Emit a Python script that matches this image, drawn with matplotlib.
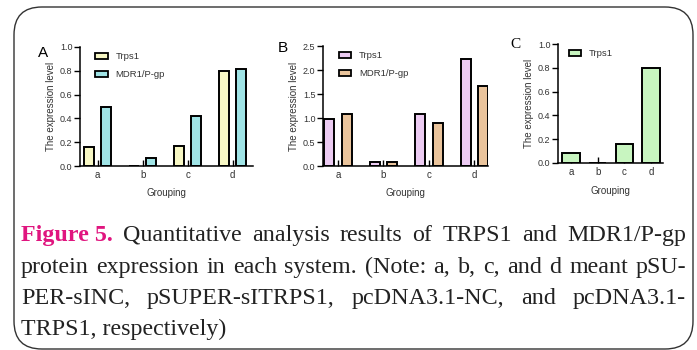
import matplotlib
matplotlib.use('Agg')
import matplotlib.pyplot as plt
import numpy as np
from matplotlib.patches import FancyBboxPatch

groups = ['a', 'b', 'c', 'd']
a_trps1 = [0.157, 0.0, 0.168, 0.80]
a_mdr1 = [0.498, 0.07, 0.42, 0.815]
b_trps1 = [0.985, 0.09, 1.08, 2.23]
b_mdr1 = [1.08, 0.085, 0.89, 1.67]
c_trps1 = [0.087, 0.0, 0.157, 0.796]
series_names = ['Trps1', 'MDR1/P-gp']
a_yticks = [0.0, 0.2, 0.4, 0.6, 0.8, 1.0]
b_yticks = [0.0, 0.5, 1.0, 1.5, 2.0, 2.5]
c_yticks = [0.0, 0.2, 0.4, 0.6, 0.8, 1.0]

caption_lines = [
    [("Figure 5.", "bold"), ("Quantitative", None), ("analysis", None), ("results", None), ("of", None),
     ("TRPS1", None), ("and", None), ("MDR1/P-gp", None)],
    [("protein", None), ("expression", None), ("in", None), ("each", None), ("system.", None),
     ("(Note:", None), ("a,", None), ("b,", None), ("c,", None), ("and", None), ("d", None),
     ("meant", None), ("pSU-", None)],
    [("PER-sINC,", None), ("pSUPER-sITRPS1,", None), ("pcDNA3.1-NC,", None), ("and", None),
     ("pcDNA3.1-", None)],
    [("TRPS1, respectively)", None)],
]

W, H = 697, 350
fig = plt.figure(figsize=(W / 100, H / 100), dpi=100)
plt.rcParams['font.family'] = ['Liberation Sans', 'DejaVu Sans']
TXT = '#333333'


def fx(px):
    return px / W


def fy(py):
    return 1 - py / H


def make_ax(left, right, top, bottom):
    return fig.add_axes([fx(left), fy(bottom), fx(right - left), (bottom - top) / H])


def style(ax, yticks, xlim, ylim):
    ax.set_xlim(*xlim)
    ax.set_ylim(*ylim)
    ax.set_yticks(yticks)
    ax.set_yticklabels([f"{t:.1f}" for t in yticks])
    ax.set_xticks(range(len(groups)))
    ax.set_xticklabels(groups)
    for s in ['top', 'right']:
        ax.spines[s].set_visible(False)
    for s in ['left', 'bottom']:
        ax.spines[s].set_linewidth(1.1)
    ax.tick_params(axis='y', direction='out', length=4, width=1.0, labelsize=6.5, labelcolor=TXT, pad=1.5)
    ax.tick_params(axis='x', direction='in', length=4, width=1.0, labelsize=7, labelcolor=TXT, pad=3)
    ax.set_ylabel('The expression level', fontsize=7, color=TXT, labelpad=3)
    ax.set_xlabel('Grouping', fontsize=7, color=TXT, labelpad=6)


x = np.arange(len(groups))

# Panel A
axA = make_ax(80, 253, 47, 166)
bw = 0.22
axA.bar(x - 0.19, a_trps1, bw, color='#f7f7c4', edgecolor='black', linewidth=1.4, label=series_names[0], zorder=2)
axA.bar(x + 0.19, a_mdr1, bw, color='#a0e4e6', edgecolor='black', linewidth=1.4, label=series_names[1], zorder=2)
style(axA, a_yticks, (-0.39, 3.45), (0, 1.0))

# Panel B
axB = make_ax(323, 488, 46, 166)
axB.bar(x - 0.19, b_trps1, bw, color='#eccbf2', edgecolor='black', linewidth=1.4, label=series_names[0], zorder=2)
axB.bar(x + 0.19, b_mdr1, bw, color='#eac49c', edgecolor='black', linewidth=1.4, label=series_names[1], zorder=2)
style(axB, b_yticks, (-0.33, 3.3), (0, 2.5))

# Panel C
axC = make_ax(558, 663, 44, 163)
axC.bar(x, c_trps1, 0.66, color='#c8f5c0', edgecolor='black', linewidth=1.4, label=series_names[0], zorder=2)
style(axC, c_yticks, (-0.48, 3.44), (0, 1.0))

for ax, ax0 in ((axA, 0.04), (axB, 0.045), (axC, 0.02)):
    leg = ax.legend(loc='upper left', bbox_to_anchor=(ax0, 1.03), frameon=False, fontsize=6.8,
                    handlelength=1.3, handleheight=0.6, handletextpad=0.8, labelspacing=0.95)
    for t in leg.get_texts():
        t.set_color(TXT)
    for p in leg.get_patches():
        p.set_linewidth(1.3)

fig.text(fx(43), fy(53), 'A', fontsize=11, ha='center', va='center')
fig.text(fx(283), fy(48), 'B', fontsize=11, ha='center', va='center')
fig.text(fx(515), fy(45), 'C', fontsize=11, ha='center', va='center', family='Liberation Serif')

# Border
border = FancyBboxPatch((fx(14), fy(349)), fx(693 - 14), (349 - 7) / H,
                        boxstyle='round,pad=0,rounding_size=0.04', transform=fig.transFigure,
                        fill=False, edgecolor='#333333', linewidth=1.0, mutation_aspect=W / H)
fig.add_artist(border)

# Caption
fig.canvas.draw()
renderer = fig.canvas.get_renderer()
cap_fs = 17.3
x0, x1 = 21, 686
baselines = [241, 273, 304, 335]
for li, (line, by) in enumerate(zip(caption_lines, baselines)):
    texts = []
    for word, kind in line:
        if kind == 'bold':
            t = fig.text(0, fy(by), word, fontsize=cap_fs, family='Liberation Serif', weight='bold',
                         color='#e0157f', va='baseline')
        else:
            t = fig.text(0, fy(by), word, fontsize=cap_fs, family='Liberation Serif', color='#222222',
                         va='baseline')
        texts.append(t)
    widths = [t.get_window_extent(renderer).width for t in texts]
    if li < 3 and len(texts) > 1:
        gap = (x1 - x0 - sum(widths)) / (len(texts) - 1)
    else:
        gap = 5
    cx = x0
    for t, w in zip(texts, widths):
        t.set_x(fx(cx))
        cx += w + gap

fig.savefig('out.png', dpi=100)
